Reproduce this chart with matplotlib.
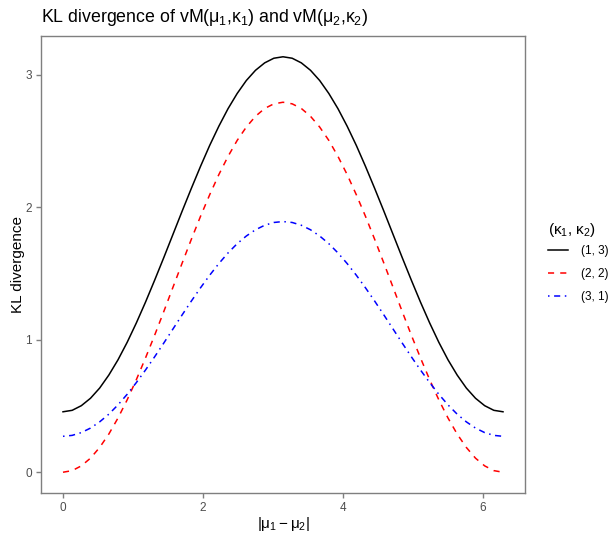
import matplotlib
matplotlib.use("Agg")
import matplotlib.pyplot as plt
import numpy as np

plt.rcParams['font.family'] = ['Liberation Sans', 'DejaVu Sans']
plt.rcParams['mathtext.fontset'] = 'custom'
plt.rcParams['mathtext.rm'] = 'Liberation Sans'
plt.rcParams['mathtext.it'] = 'Liberation Sans'

# x sampled at k*pi/24, k = 0..48
x_steps = list(range(49))
kl_13 = [0.456, 0.467, 0.502, 0.558, 0.635, 0.733, 0.848, 0.980, 1.126, 1.283, 1.449, 1.620, 1.795,
         1.970, 2.141, 2.307, 2.465, 2.610, 2.742, 2.857, 2.955, 3.032, 3.088, 3.123, 3.134,
         3.123, 3.088, 3.032, 2.955, 2.857, 2.742, 2.610, 2.465, 2.307, 2.141, 1.970, 1.795,
         1.620, 1.449, 1.283, 1.126, 0.980, 0.848, 0.733, 0.635, 0.558, 0.502, 0.467, 0.456]
kl_22 = [0.000, 0.012, 0.048, 0.106, 0.187, 0.288, 0.409, 0.546, 0.698, 0.862, 1.034, 1.213, 1.396,
         1.578, 1.757, 1.930, 2.093, 2.245, 2.382, 2.503, 2.604, 2.685, 2.744, 2.779, 2.791,
         2.779, 2.744, 2.685, 2.604, 2.503, 2.382, 2.245, 2.093, 1.930, 1.757, 1.578, 1.396,
         1.213, 1.034, 0.862, 0.698, 0.546, 0.409, 0.288, 0.187, 0.106, 0.048, 0.012, 0.000]
kl_31 = [0.271, 0.278, 0.299, 0.333, 0.380, 0.438, 0.508, 0.588, 0.676, 0.771, 0.871, 0.975, 1.081,
         1.187, 1.291, 1.391, 1.486, 1.574, 1.654, 1.724, 1.782, 1.829, 1.863, 1.884, 1.891,
         1.884, 1.863, 1.829, 1.782, 1.724, 1.654, 1.574, 1.486, 1.391, 1.291, 1.187, 1.081,
         0.975, 0.871, 0.771, 0.676, 0.588, 0.508, 0.438, 0.380, 0.333, 0.299, 0.278, 0.271]
labels = ['(1, 3)', '(2, 2)', '(3, 1)']
x = np.array(x_steps) * np.pi / 24

W, H = 608, 536
fig = plt.figure(figsize=(W/100, H/100), dpi=100)
l, r, t, b = 41, 525, 36, 493
ax = fig.add_axes([l/W, 1 - b/H, (r-l)/W, (b-t)/H])

lw = 1.1
ax.plot(x, kl_13, color='black', lw=lw, label=labels[0])
ax.plot(x, kl_22, color='red', lw=lw, dashes=(4, 4), label=labels[1])
ax.plot(x, kl_31, color='blue', lw=lw, dashes=(1, 3, 4, 3), label=labels[2])

xmax = 2*np.pi
ax.set_xlim(-0.05*xmax, xmax*1.05)
ymax = max(kl_13)
ax.set_ylim(-0.05*ymax, ymax*1.05)
ax.set_xticks([0, 2, 4, 6])
ax.set_yticks([0, 1, 2, 3])

border = '#7f7f7f'
for s in ax.spines.values():
    s.set_color(border)
    s.set_linewidth(1.0)
ax.tick_params(colors='#4d4d4d', labelsize=8.5, length=3.5, width=1.0, pad=3)
ax.tick_params(axis='both', color=border)

ax.set_xlabel(r'|$\mu_1-\mu_2$|', fontsize=11, labelpad=1)
ax.set_ylabel('KL divergence', fontsize=11, labelpad=0)
fig.text(41/W, 1 - 17/H, r'KL divergence of vM($\mu_1$,$\kappa_1$) and vM($\mu_2$,$\kappa_2$)',
         fontsize=12.8, ha='left', va='center')

leg = ax.legend(title=r'($\kappa_1$, $\kappa_2$)', frameon=False, loc='center left',
                bbox_to_anchor=(1.026, 0.505), fontsize=8.5, title_fontsize=11,
                handlelength=1.7, labelspacing=0.95, handletextpad=1.1)
leg._legend_box.align = 'left'
leg._legend_box.sep = 4

fig.savefig('out.png', dpi=100)
